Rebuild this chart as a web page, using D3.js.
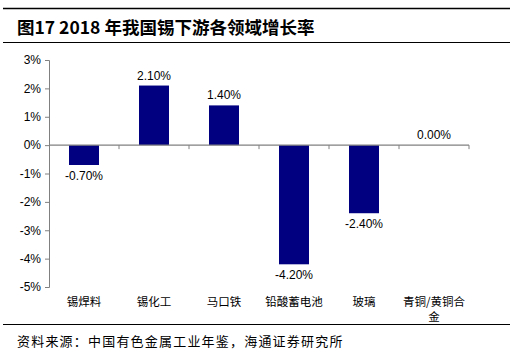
<!DOCTYPE html>
<html><head><meta charset="utf-8">
<script src="https://cdn.jsdelivr.net/npm/d3@7"></script>
<style>body{margin:0;background:#fff;}svg{display:block;}</style>
</head><body>
<script>
const categories = ["锡焊料","锡化工","马口铁","铅酸蓄电池","玻璃","青铜/黄铜合金"];
const values = [-0.70, 2.10, 1.40, -4.20, -2.40, 0.00];
const yTicks = [3,2,1,0,-1,-2,-3,-4,-5];
const title = "图17 2018 年我国锡下游各领域增长率";
const source = "资料来源：中国有色金属工业年鉴，海通证券研究所";

const W = 528, H = 356;
const svg = d3.select("body").append("svg").attr("width", W).attr("height", H);
const cjk = "'Noto Sans CJK SC', sans-serif";
const lat = "Arial, 'Liberation Sans', sans-serif";

svg.append("line").attr("x1",3).attr("x2",510).attr("y1",8.5).attr("y2",8.5).attr("stroke","#000").attr("stroke-width",1.5);
svg.append("line").attr("x1",3).attr("x2",510).attr("y1",42.5).attr("y2",42.5).attr("stroke","#000").attr("stroke-width",1);
svg.append("line").attr("x1",3).attr("x2",510).attr("y1",324.5).attr("y2",324.5).attr("stroke","#000").attr("stroke-width",1);

svg.append("text").attr("x",17).attr("y",34).attr("font-family",cjk).attr("font-weight","bold").attr("font-size",17.5).attr("fill","#000").text(title);
svg.append("text").attr("x",17).attr("y",346).attr("font-family",cjk).attr("font-size",13).attr("letter-spacing",1.2).attr("fill","#000").text(source);

const x0 = 49, x1 = 469;
const y = d3.scaleLinear().domain([-5,3]).range([287,60]);
const x = d3.scaleBand().domain(categories).range([x0,x1]).paddingInner(0).paddingOuter(0);

const yAxis = d3.axisLeft(y).tickValues(yTicks).tickSize(4).tickFormat(d => d + "%");
const gy = svg.append("g").attr("transform",`translate(${x0},0)`).call(yAxis);
gy.select(".domain").attr("stroke","#808080");
gy.selectAll(".tick line").attr("stroke","#808080");
gy.selectAll("text").attr("font-family",lat).attr("font-size",12).attr("fill","#000").attr("x",-8);

const bw = 30;
svg.selectAll("rect.bar").data(values).enter().append("rect")
  .attr("x",(d,i)=>x(categories[i]) + x.bandwidth()/2 - bw/2)
  .attr("y",d=>y(Math.max(0,d)))
  .attr("width",bw)
  .attr("height",d=>Math.abs(y(d)-y(0)))
  .attr("fill","#000080");

// zero axis with category ticks
const gx = svg.append("g").attr("transform",`translate(0,${y(0)})`);
gx.append("line").attr("x1",x0).attr("x2",x1).attr("stroke","#808080").attr("stroke-width",1.3);
const bounds = categories.map((c,i)=>x0 + x.bandwidth()*(i+1));
gx.selectAll("line.t").data(bounds).enter().append("line")
  .attr("x1",d=>d).attr("x2",d=>d).attr("y1",0).attr("y2",4).attr("stroke","#808080");

svg.selectAll("text.val").data(values).enter().append("text")
  .attr("x",(d,i)=>x(categories[i]) + x.bandwidth()/2)
  .attr("y",d=> d>=0 ? y(d)-6 : y(d)+15)
  .attr("text-anchor","middle").attr("font-family",lat).attr("font-size",12).attr("fill","#000")
  .text(d=>d.toFixed(2)+"%");

categories.forEach((c,i)=>{
  const cx = x(c) + x.bandwidth()/2;
  const lines = c.length > 5 ? [c.slice(0,6), c.slice(6)] : [c];
  lines.forEach((ln,j)=>{
    svg.append("text").attr("x",cx).attr("y",306 + j*15).attr("text-anchor","middle")
      .attr("font-family",cjk).attr("font-size",11.5).attr("fill","#000").text(ln);
  });
});
</script>
</body></html>
